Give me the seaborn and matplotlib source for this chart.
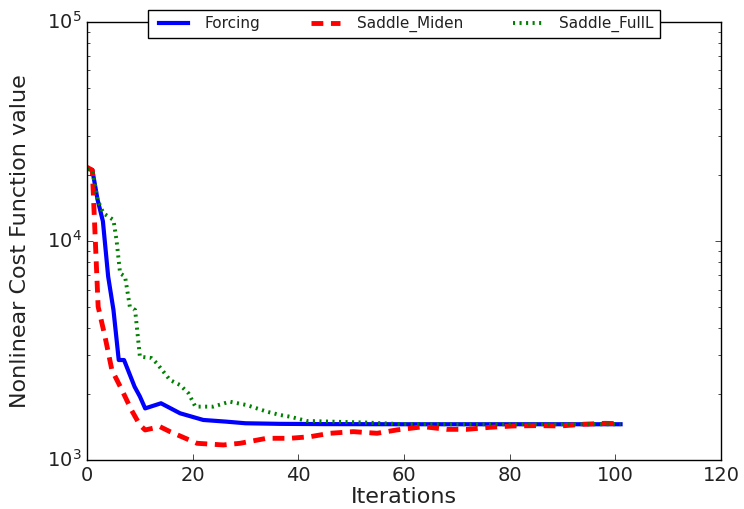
import matplotlib
matplotlib.use("Agg")
import matplotlib.pyplot as plt
import seaborn as sns
import pandas as pd

plt.style.use("classic")
plt.rcParams["lines.scale_dashes"] = False

forcing_x = [0, 1, 2, 3, 4, 5, 6, 7, 9, 10, 11, 14, 17.6, 22, 26.4, 30, 36.5, 45, 60, 80, 101]
forcing_y = [21500, 21100, 15400, 12300, 6870, 4840, 2860, 2860, 2160, 1950, 1720, 1815, 1634, 1523,
             1496, 1471, 1462, 1458, 1456, 1456, 1456]

miden_x = [0, 1, 2.1, 3.4, 4.7, 6.6, 8.4, 10, 11, 13.8, 15.7, 20.8, 25.8, 29, 34, 38.4, 42.2, 46,
           50.4, 54.9, 58.6, 63.7, 68.1, 71.9, 76.3, 80.7, 85.2, 89.6, 94, 98.1, 101]
miden_y = [21700, 21000, 5010, 3656, 2576, 2088, 1691, 1445, 1371, 1419, 1347, 1192, 1171, 1192,
           1256, 1256, 1277, 1324, 1347, 1324, 1371, 1419, 1380, 1380, 1410, 1430, 1435, 1430,
           1456, 1470, 1465]

fulll_x = [0, 1, 2, 3.1, 5, 5.6, 6.25, 7.2, 8.1, 9.1, 10, 12.2, 13.2, 15.7, 17.6, 19.2, 20.5, 23.9,
           27, 30.2, 34, 36.5, 38.4, 41.6, 46.6, 53, 59, 70, 85, 101]
fulll_y = [21300, 21000, 15400, 13370, 12470, 10000, 7120, 6870, 5010, 4840, 2963, 2920, 2764, 2318,
           2200, 2016, 1752, 1752, 1846, 1782, 1663, 1605, 1577, 1507, 1496, 1482, 1460, 1456, 1456,
           1456]

labels = ["Forcing", "Saddle_Miden", "Saddle_FullL"]

txt = "#222222"
fig = plt.figure(figsize=(7.44, 5.09), dpi=100)
ax = fig.add_axes([0.117, 0.0963, 0.852, 0.8607])

sns.lineplot(x=forcing_x, y=forcing_y, ax=ax, color="blue", lw=3, label=labels[0])
sns.lineplot(x=miden_x, y=miden_y, ax=ax, color="red", lw=3.5, linestyle=(0, (8.5, 5.5)), label=labels[1])
sns.lineplot(x=fulll_x, y=fulll_y, ax=ax, color="green", lw=2.8, linestyle=(0, (1.5, 3.2)), label=labels[2])

ax.set_yscale("log")
ax.set_xlim(0, 120)
ax.set_ylim(1e3, 1e5)
ax.set_xticks([0, 20, 40, 60, 80, 100, 120])
ax.set_xlabel("Iterations", fontsize=16, color=txt, labelpad=2)
ax.set_ylabel("Nonlinear Cost Function value", fontsize=16, color=txt, labelpad=12)
ax.tick_params(labelsize=14, labelcolor=txt)
ax.grid(False)

leg = ax.legend(loc="center", bbox_to_anchor=(0.5, 0.995), ncol=3, fontsize=11,
                frameon=True, fancybox=False, columnspacing=3.0, handlelength=2.5)
leg.get_frame().set_edgecolor("black")
for t in leg.get_texts():
    t.set_color(txt)

fig.savefig("out.png", dpi=100)
